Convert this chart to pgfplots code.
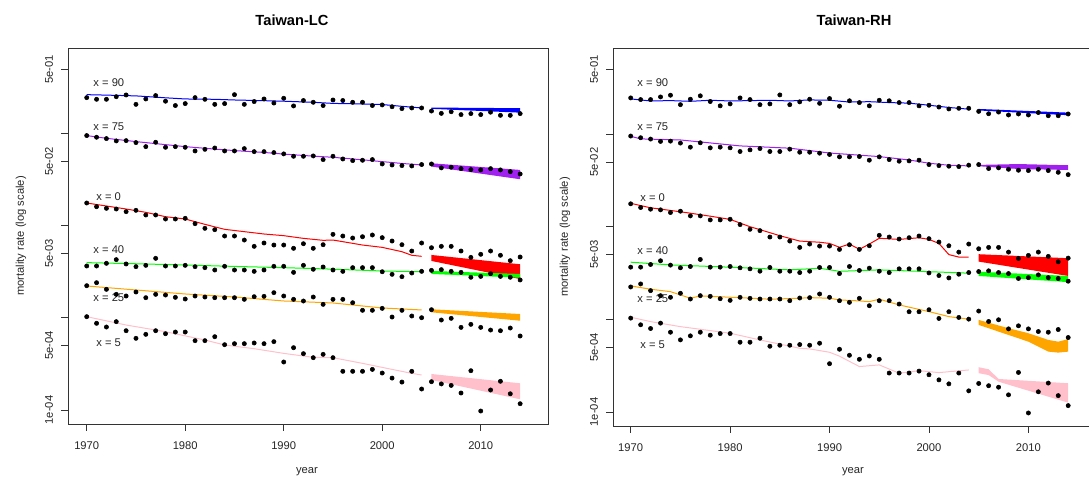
\documentclass[border=0pt]{standalone}
\usepackage{fontspec}
\setmainfont{Liberation Sans}
\usepackage{pgfplots}
\usepackage{pgfplotstable}
\pgfplotsset{compat=1.18}
\definecolor{rpurple}{RGB}{160,32,240}
\definecolor{rorange}{RGB}{255,165,0}
\definecolor{rpink}{RGB}{255,192,203}
\definecolor{rgreen}{RGB}{0,255,0}
\definecolor{rblue}{RGB}{0,0,255}
\definecolor{rred}{RGB}{255,0,0}

\pgfplotstableread{
year x90 x75 x0 x40 x25 x5
1970 0.246 0.0953 0.01767 0.00366 0.002236 0.001031
1971 0.236 0.0914 0.01612 0.00366 0.002411 0.000873
1972 0.236 0.0884 0.01546 0.00391 0.002041 0.000796
1973 0.252 0.0834 0.01521 0.00429 0.001801 0.000910
1974 0.263 0.0840 0.01423 0.00385 0.001728 0.000726
1975 0.208 0.0800 0.01471 0.00360 0.001910 0.000600
1976 0.238 0.0723 0.01309 0.00372 0.001657 0.000663
1977 0.259 0.0806 0.01309 0.00443 0.001801 0.000726
1978 0.225 0.0711 0.01184 0.00366 0.001771 0.000674
1979 0.202 0.0723 0.01184 0.00366 0.001671 0.000702
1980 0.212 0.0711 0.01204 0.00372 0.001603 0.000702
1981 0.246 0.0649 0.01054 0.00360 0.001728 0.000566
1982 0.236 0.0676 0.00938 0.00351 0.001685 0.000566
1983 0.208 0.0699 0.00907 0.00331 0.001657 0.000625
1984 0.212 0.0649 0.00774 0.00363 0.001657 0.000512
1985 0.265 0.0649 0.00774 0.00331 0.001657 0.000525
1986 0.208 0.0688 0.00700 0.00331 0.001590 0.000525
1987 0.223 0.0638 0.00598 0.00320 0.001699 0.000534
1988 0.238 0.0638 0.00650 0.00331 0.001713 0.000525
1989 0.215 0.0623 0.00618 0.00363 0.001878 0.000552
1990 0.242 0.0603 0.00618 0.00363 0.001728 0.000332
1991 0.200 0.0568 0.00569 0.00312 0.001590 0.000475
1992 0.229 0.0568 0.00639 0.00372 0.001525 0.000409
1993 0.219 0.0573 0.00569 0.00337 0.001685 0.000370
1994 0.202 0.0523 0.00623 0.00357 0.001403 0.000402
1995 0.232 0.0568 0.00807 0.00331 0.001590 0.000370
1996 0.229 0.0531 0.00774 0.00320 0.001590 0.000263
1997 0.219 0.0510 0.00736 0.00351 0.001462 0.000263
1998 0.219 0.0514 0.00761 0.00351 0.001208 0.000263
1999 0.202 0.0523 0.00794 0.00351 0.001208 0.000276
2000 0.205 0.0469 0.00743 0.00317 0.001269 0.000252
2001 0.196 0.0457 0.00683 0.00297 0.001022 0.000222
2002 0.187 0.0450 0.00623 0.00280 0.001208 0.000201
2003 0.190 0.0446 0.00532 0.00307 0.001048 0.000263
2004 0.190 0.0462 0.00650 0.00320 0.001005 0.000169
2005 0.176 0.0469 0.00578 0.00328 0.001228 0.000203
2006 0.166 0.0425 0.00598 0.00334 0.000948 0.000192
2007 0.173 0.0432 0.00598 0.00320 0.000989 0.000185
2008 0.161 0.0417 0.00532 0.00312 0.000789 0.000153
2009 0.165 0.0407 0.00454 0.00276 0.000851 0.000267
2010 0.161 0.0404 0.00490 0.00282 0.000789 0.0000975
2011 0.171 0.0417 0.00532 0.00302 0.000738 0.000165
2012 0.158 0.0404 0.00478 0.00282 0.000726 0.000205
2013 0.158 0.0387 0.00418 0.00276 0.000776 0.000150
2014 0.165 0.0365 0.00458 0.00258 0.000636 0.000117
}\obs

\pgfplotsset{
  every axis/.append style={
    scale only axis,
    axis line style={black!80, line width=0.6pt},
    tick align=outside,
    major tick length=5.25pt,
    tick style={black!80, line width=0.6pt},
    minor tick length=0pt,
    xtick pos=left, ytick pos=left,
    xtick={1970,1980,1990,2000,2010},
    xticklabels={1970,1980,1990,2000,2010},
    ticklabel style={font=\fontsize{8.4}{10}\selectfont, text=black!85},
    yticklabel style={rotate=90, anchor=south, inner sep=5.8pt},
    xticklabel style={anchor=north, inner sep=2pt, yshift=-5.9pt},
    clip=false,
  },
  mydots/.style={only marks, mark=*, mark size=1.6pt, black},
  myfit/.style={line width=0.75pt},
}
\tikzset{mylab/.style={font=\fontsize{8.4}{10}\selectfont, text=black!85, anchor=west}}

\begin{document}
\begin{tikzpicture}
\useasboundingbox (0,0) rectangle (816.75pt,363pt);

% ---------------- Taiwan-LC ----------------
\begin{axis}[at={(51pt,45pt)}, anchor=south west,
  width=360pt, height=282pt, xmin=1968.1, xmax=2016.83,
  ymode=log, ymin=7.05e-5, ymax=0.851,
  ytick={1e-4,5e-4,1e-3,5e-3,1e-2,5e-2,1e-1,5e-1},
  yticklabels={1e-04,5e-04,,5e-03,,5e-02,,5e-01}]
  \addplot[draw=none, fill=rblue] coordinates {(2005,0.192) (2014,0.189) (2014,0.169) (2005,0.186)};
  \addplot[draw=none, fill=rpurple] coordinates {(2005,0.0477) (2014,0.0404) (2014,0.0320) (2005,0.0439)};
  \addplot[draw=none, fill=rred] coordinates {(2005,0.00482) (2014,0.00382) (2014,0.00264) (2005,0.00415)};
  \addplot[draw=none, fill=rgreen] coordinates {(2005,0.00323) (2014,0.00300) (2014,0.00273) (2005,0.00300)};
  \addplot[draw=none, fill=rorange] coordinates {(2005,0.001240) (2014,0.001102) (2014,0.000932) (2005,0.001150)};
  \addplot[draw=none, fill=rpink] coordinates {(2005,0.000246) (2014,0.000195) (2014,0.0001307) (2005,0.000212)};
  \addplot[myfit, rblue] coordinates {(1970,0.265) (1972,0.262) (1975,0.257) (1978,0.245) (1980,0.238) (1983,0.236) (1985,0.232) (1988,0.228) (1990,0.225) (1993,0.219) (1995,0.213) (1998,0.210) (2000,0.207) (2002,0.198) (2004,0.190)};
  \addplot[myfit, rpurple] coordinates {(1970,0.0953) (1972,0.0890) (1975,0.0820) (1978,0.0760) (1980,0.0723) (1983,0.0680) (1985,0.0655) (1988,0.0625) (1990,0.0600) (1993,0.0570) (1995,0.0554) (1998,0.0520) (2000,0.0497) (2002,0.0475) (2004,0.0457)};
  \addplot[myfit, rred] coordinates {(1970,0.01767) (1972,0.01639) (1974,0.01521) (1976,0.01399) (1978,0.01255) (1980,0.01184) (1982,0.01036) (1984,0.00915) (1986,0.00863) (1988,0.00814) (1990,0.00781) (1992,0.00730) (1994,0.00695) (1995,0.00700) (1996,0.00672) (1998,0.00618) (2000,0.00583) (2002,0.00523) (2003,0.00478) (2004,0.00466)};
  \addplot[myfit, rgreen] coordinates {(1970,0.00398) (1975,0.00387) (1980,0.00375) (1985,0.00362) (1990,0.00351) (1995,0.00338) (2000,0.00323) (2004,0.00317)};
  \addplot[myfit, rorange] coordinates {(1970,0.002220) (1975,0.002009) (1980,0.001818) (1985,0.001686) (1990,0.001526) (1995,0.001452) (2000,0.001281) (2004,0.001219)};
  \addplot[myfit, rpink] coordinates {(1970,0.001031) (1974,0.000837) (1978,0.000708) (1982,0.000575) (1984,0.000508) (1987,0.000463) (1990,0.000412) (1993,0.000373) (1995,0.000370) (1998,0.000321) (2001,0.000276) (2003,0.000250) (2004,0.000240)};
  \addplot[mydots] table[x=year, y=x90] {\obs};
  \addplot[mydots] table[x=year, y=x75] {\obs};
  \addplot[mydots] table[x=year, y=x0] {\obs};
  \addplot[mydots] table[x=year, y=x40] {\obs};
  \addplot[mydots] table[x=year, y=x25] {\obs};
  \addplot[mydots] table[x=year, y=x5] {\obs};
  \node[mylab] at (axis cs:1970.2,0.358) {x = 90};
  \node[mylab] at (axis cs:1970.2,0.1191) {x = 75};
  \node[mylab] at (axis cs:1970.5,0.0207) {x = 0};
  \node[mylab] at (axis cs:1970.2,0.00556) {x = 40};
  \node[mylab] at (axis cs:1970.2,0.001656) {x = 25};
  \node[mylab] at (axis cs:1970.5,0.000538) {x = 5};
\end{axis}

% ---------------- Taiwan-RH ----------------
\begin{axis}[at={(459.75pt,43.5pt)}, anchor=south west,
  width=363pt, height=283.5pt, xmin=1968.22, xmax=2016.9,
  ymode=log, ymin=7.05e-5, ymax=0.851,
  ytick={1e-4,5e-4,1e-3,5e-3,1e-2,5e-2,1e-1,5e-1},
  yticklabels={1e-04,5e-04,,5e-03,,5e-02,,5e-01}]
  \addplot[draw=none, fill=rblue] coordinates {(2005,0.187) (2014,0.1706) (2014,0.160) (2005,0.180)};
  \addplot[draw=none, fill=rpurple] coordinates {(2005,0.0465) (2009,0.0475) (2014,0.0461) (2014,0.0410) (2009,0.0420) (2005,0.0450)};
  \addplot[draw=none, fill=rred] coordinates {(2005,0.00505) (2014,0.00457) (2014,0.00294) (2005,0.00420)};
  \addplot[draw=none, fill=rgreen] coordinates {(2005,0.00327) (2014,0.00294) (2014,0.00252) (2005,0.00294)};
  \addplot[draw=none, fill=rorange] coordinates {(2005,0.000986) (2008,0.000801) (2010,0.000708) (2012,0.000599) (2013,0.000574) (2014,0.000610) (2014,0.000448) (2013,0.000437) (2012,0.000448) (2010,0.000574) (2008,0.000678) (2005,0.000870)};
  \addplot[draw=none, fill=rpink] coordinates {(2005,0.000304) (2006,0.000289) (2007,0.000227) (2014,0.000204) (2014,0.000126) (2007,0.000212) (2006,0.000250) (2005,0.000262)};
  \addplot[myfit, rblue] coordinates {(1970,0.240) (1972,0.228) (1974,0.230) (1976,0.226) (1978,0.232) (1980,0.228) (1982,0.230) (1984,0.232) (1986,0.228) (1988,0.234) (1990,0.232) (1992,0.222) (1994,0.224) (1996,0.219) (1998,0.216) (2000,0.205) (2002,0.194) (2004,0.186)};
  \addplot[myfit, rpurple] coordinates {(1970,0.0948) (1971,0.0888) (1975,0.0865) (1981,0.0746) (1986,0.0705) (1990,0.0625) (1995,0.0572) (1998,0.0526) (2000,0.0485) (2002,0.0461) (2004,0.0454)};
  \addplot[myfit, rred] coordinates {(1970,0.0179) (1972,0.0160) (1974,0.0150) (1976,0.0140) (1978,0.0130) (1980,0.0120) (1982,0.0100) (1983,0.0093) (1985,0.0080) (1987,0.0070) (1989,0.0068) (1990,0.0066) (1991,0.0060) (1992,0.0065) (1993,0.0057) (1994,0.0065) (1995,0.0075) (1997,0.0073) (1999,0.0076) (2000,0.0073) (2001,0.0066) (2002,0.0050) (2003,0.0047) (2004,0.0047)};
  \addplot[myfit, rgreen] coordinates {(1970,0.00414) (1974,0.00387) (1981,0.00362) (1986,0.00342) (1989,0.00356) (1991,0.00330) (1995,0.00342) (2000,0.00327) (2004,0.00315)};
  \addplot[myfit, rorange] coordinates {(1970,0.002295) (1972,0.002114) (1974,0.001991) (1976,0.001690) (1977,0.001789) (1981,0.001715) (1984,0.001649) (1987,0.001690) (1988,0.001715) (1990,0.001690) (1991,0.001620) (1993,0.001580) (1994,0.001553) (1995,0.001650) (1997,0.001431) (2000,0.001211) (2002,0.001070) (2004,0.001003)};
  \addplot[myfit, rpink] coordinates {(1970,0.001054) (1972,0.000945) (1975,0.000834) (1980,0.000708) (1983,0.000599) (1987,0.000487) (1988,0.000479) (1990,0.000441) (1991,0.000400) (1993,0.000309) (1995,0.000322) (1997,0.000262) (1999,0.000279) (2001,0.000266) (2004,0.000284)};
  \addplot[mydots] table[x=year, y=x90] {\obs};
  \addplot[mydots] table[x=year, y=x75] {\obs};
  \addplot[mydots] table[x=year, y=x0] {\obs};
  \addplot[mydots] table[x=year, y=x40] {\obs};
  \addplot[mydots] table[x=year, y=x25] {\obs};
  \addplot[mydots] table[x=year, y=x5] {\obs};
  \node[mylab] at (axis cs:1970.2,0.358) {x = 90};
  \node[mylab] at (axis cs:1970.2,0.1191) {x = 75};
  \node[mylab] at (axis cs:1970.5,0.0207) {x = 0};
  \node[mylab] at (axis cs:1970.2,0.00556) {x = 40};
  \node[mylab] at (axis cs:1970.2,0.001656) {x = 25};
  \node[mylab] at (axis cs:1970.5,0.000538) {x = 5};
\end{axis}

\node[font=\bfseries\fontsize{11}{13}\selectfont] at (219pt,348pt) {Taiwan-LC};
\node[font=\bfseries\fontsize{11}{13}\selectfont] at (640.5pt,348pt) {Taiwan-RH};
\node[font=\fontsize{8.4}{10}\selectfont, text=black!85] at (230.25pt,9pt) {year};
\node[font=\fontsize{8.4}{10}\selectfont, text=black!85] at (639.75pt,9pt) {year};
\node[font=\fontsize{8.4}{10}\selectfont, text=black!85, rotate=90] at (15.75pt,186pt) {mortality rate (log scale)};
\node[font=\fontsize{8.4}{10}\selectfont, text=black!85, rotate=90] at (423.75pt,185.25pt) {mortality rate (log scale)};
\end{tikzpicture}
\end{document}
